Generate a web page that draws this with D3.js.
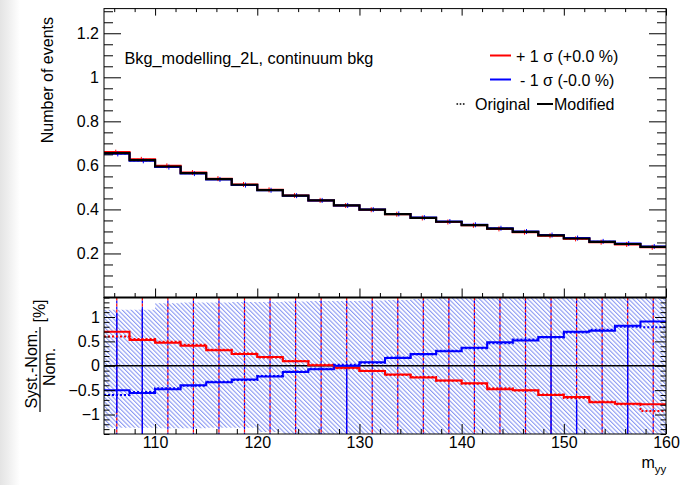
<!DOCTYPE html>
<html>
<head>
<meta charset="utf-8">
<script src="https://cdn.jsdelivr.net/npm/d3@7"></script>
<style>
  html, body { margin: 0; padding: 0; background: #fff; }
  svg { display: block; }
  text { font-family: "Liberation Sans", Arial, Helvetica, sans-serif; fill: #000; }
</style>
</head>
<body>
<svg id="chart" width="687" height="485"></svg>
<script>
// m_yy binning (GeV)
const binEdges = [105, 107.5, 110, 112.5, 115, 117.5, 120, 122.5, 125, 127.5, 130,
  132.5, 135, 137.5, 140, 142.5, 145, 147.5, 150, 152.5, 155, 157.5, 160];

// Nominal continuum background yield per bin
const nominal = [0.656, 0.624, 0.595, 0.565, 0.538, 0.512, 0.488, 0.463, 0.441, 0.418, 0.399,
  0.379, 0.362, 0.344, 0.329, 0.313, 0.298, 0.282, 0.268, 0.253, 0.243, 0.230];

// Relative variation (Syst.-Nom.)/Nom. in percent, smoothed ("Modified")
const upModified = [0.70, 0.53, 0.47, 0.41, 0.32, 0.24, 0.18, 0.09, 0.01, -0.04, -0.11,
  -0.18, -0.24, -0.30, -0.36, -0.48, -0.50, -0.60, -0.64, -0.75, -0.78, -0.79];
const downModified = [-0.50, -0.56, -0.48, -0.40, -0.34, -0.28, -0.22, -0.13, -0.07, 0.00, 0.07,
  0.16, 0.24, 0.30, 0.37, 0.48, 0.52, 0.59, 0.70, 0.72, 0.82, 0.91];

// Relative variation before smoothing ("Original")
const upOriginal = [0.60, 0.55, 0.49, 0.43, 0.33, 0.25, 0.17, 0.10, 0.02, -0.05, -0.10,
  -0.19, -0.23, -0.31, -0.37, -0.46, -0.51, -0.59, -0.66, -0.74, -0.79, -0.93];
const downOriginal = [-0.60, -0.54, -0.46, -0.41, -0.33, -0.29, -0.21, -0.12, -0.06, 0.02, 0.06,
  0.17, 0.23, 0.31, 0.36, 0.46, 0.54, 0.58, 0.68, 0.74, 0.80, 0.79];

// Statistical uncertainty band on the ratio (percent)
const statHigh = [1.15, 1.15, 1.28, 1.30, 1.30, 1.31, 1.31, 1.32, 1.33, 1.33, 1.34,
  1.35, 1.37, 1.40, 1.42, 1.44, 1.46, 1.48, 1.50, 1.52, 1.55, 1.58];
const statLow = [-1.27, -1.27, -1.28, -1.28, -1.27, -1.27, -1.36, -1.40, -1.42, -1.44, -1.45,
  -1.46, -1.47, -1.48, -1.50, -1.52, -1.54, -1.56, -1.58, -1.60, -1.62, -1.65];

// Solid error bars of the down variation (percent), null where none is drawn
const downBarHigh = [1.07, 1.17, null, null, null, null, null, null, null, 0.0, null,
  null, null, null, null, null, null, 0.66, -0.70, null, 0.79, null];
const downBarLow = [-0.97, -1.6, null, null, null, null, null, null, null, -1.6, null,
  null, null, null, null, null, null, -1.6, -1.6, null, -1.6, null];

// Axis ticks and labels
const topYMajor = [0.2, 0.4, 0.6, 0.8, 1.0, 1.2];
const ratioYMajor = [-1, -0.5, 0, 0.5, 1];
const xMajor = [110, 120, 130, 140, 150, 160];

const titleText = "Bkg_modelling_2L, continuum bkg";
const upLabel = "+ 1 \u03c3 (+0.0 %)";
const downLabel = "- 1 \u03c3 (-0.0 %)";

const RED = "#ff0000", BLUE = "#0000ff";
const FONT = 16;

const svg = d3.select("#chart");
const defs = svg.append("defs");

// light grey margin on the left edge
const grad = defs.append("linearGradient").attr("id", "edge")
  .attr("x1", 0).attr("x2", 1).attr("y1", 0).attr("y2", 0);
grad.append("stop").attr("offset", 0).attr("stop-color", "#e4e4e4");
grad.append("stop").attr("offset", 0.4).attr("stop-color", "#eeeeee");
grad.append("stop").attr("offset", 1).attr("stop-color", "#ffffff");
svg.append("rect").attr("x", 0).attr("y", 0).attr("width", 20).attr("height", 485).attr("fill", "url(#edge)");

// hatch pattern for the stat band: thin "\" lines
const pat = defs.append("pattern").attr("id", "hatch")
  .attr("patternUnits", "userSpaceOnUse").attr("width", 3.1).attr("height", 10)
  .attr("patternTransform", "rotate(-45)");
pat.append("line").attr("x1", 0.6).attr("x2", 0.6).attr("y1", 0).attr("y2", 10)
  .attr("stroke", "#6a7cf0").attr("stroke-width", 0.85);

const X0 = 104, X1 = 666;
const TOP0 = 8.6, MID = 297.5, BOT = 434;

const x = d3.scaleLinear().domain([105, 160]).range([X0, X1]);
const yTop = d3.scaleLinear().domain([0, 1.312]).range([MID, TOP0]);
const yRat = d3.scaleLinear().domain([-1.4, 1.4]).range([BOT, MID]);

const nb = nominal.length;
const centers = d3.range(nb).map(i => (binEdges[i] + binEdges[i + 1]) / 2);

function stepPts(vals) {
  const pts = vals.map((v, i) => [binEdges[i], v]);
  pts.push([binEdges[nb], vals[nb - 1]]);
  return pts;
}
const stepLine = ys => d3.line().curve(d3.curveStepAfter).x(d => x(d[0])).y(d => ys(d[1]));

defs.append("clipPath").attr("id", "clipTop")
  .append("rect").attr("x", X0).attr("y", TOP0).attr("width", X1 - X0).attr("height", MID - TOP0);
defs.append("clipPath").attr("id", "clipRat")
  .append("rect").attr("x", X0).attr("y", MID).attr("width", X1 - X0).attr("height", BOT - MID);

// ---------- upper panel ----------
const upper = svg.append("g");
const upperPlot = upper.append("g").attr("clip-path", "url(#clipTop)");

const upVals = nominal.map((n, i) => n * (1 + upModified[i] / 100));
const downVals = nominal.map((n, i) => n * (1 + downModified[i] / 100));
const upOrigVals = nominal.map((n, i) => n * (1 + upOriginal[i] / 100));
const downOrigVals = nominal.map((n, i) => n * (1 + downOriginal[i] / 100));

upperPlot.append("path").attr("d", stepLine(yTop)(stepPts(upVals)))
  .attr("fill", "none").attr("stroke", RED).attr("stroke-width", 2);
upperPlot.append("path").attr("d", stepLine(yTop)(stepPts(downVals)))
  .attr("fill", "none").attr("stroke", BLUE).attr("stroke-width", 2);
upperPlot.append("path").attr("d", stepLine(yTop)(stepPts(upOrigVals)))
  .attr("fill", "none").attr("stroke", RED).attr("stroke-width", 1).attr("stroke-dasharray", "2,2");
upperPlot.append("path").attr("d", stepLine(yTop)(stepPts(downOrigVals)))
  .attr("fill", "none").attr("stroke", BLUE).attr("stroke-width", 1).attr("stroke-dasharray", "2,2");
// small error markers of the original variations
[[upOrigVals, RED, -1], [downOrigVals, BLUE, 1]].forEach(([vals, col, dx]) => {
  upperPlot.selectAll(null).data(vals).enter().append("line")
    .attr("x1", (d, i) => x(centers[i]) + dx).attr("x2", (d, i) => x(centers[i]) + dx)
    .attr("y1", d => yTop(d) - 2.5).attr("y2", d => yTop(d) + 2.5)
    .attr("stroke", col).attr("stroke-width", 1);
});
upperPlot.append("path").attr("d", stepLine(yTop)(stepPts(nominal)))
  .attr("fill", "none").attr("stroke", "#000").attr("stroke-width", 2.2);

// frame and axes of the upper panel
upper.append("rect").attr("x", X0).attr("y", TOP0).attr("width", X1 - X0).attr("height", MID - TOP0)
  .attr("fill", "none").attr("stroke", "#000").attr("stroke-width", 1);

const fmtNum = d => (Math.abs(d) < 1e-9 ? "0" : String(+d.toFixed(2))).replace("-", "\u2212");
const topMinorY = d3.range(1, 27).map(k => k * 0.05).filter(v => !topYMajor.some(m => Math.abs(m - v) < 1e-6));
const xMinor = d3.range(106, 160, 2).filter(v => v % 10 !== 0);

function ticksOnly(g) { g.select(".domain").remove(); g.selectAll("text").remove(); }
function styleLabels(g) {
  g.select(".domain").remove();
  g.selectAll("text").attr("font-size", FONT).attr("font-family", "Liberation Sans, Arial, sans-serif");
}

upper.append("g").attr("transform", `translate(${X0},0)`)
  .call(d3.axisLeft(yTop).tickValues(topYMajor).tickSize(-17).tickPadding(5).tickFormat(fmtNum))
  .call(styleLabels);
upper.append("g").attr("transform", `translate(${X0},0)`)
  .call(d3.axisLeft(yTop).tickValues(topMinorY).tickSize(-9)).call(ticksOnly);
upper.append("g").attr("transform", `translate(${X1},0)`)
  .call(d3.axisRight(yTop).tickValues(topYMajor).tickSize(-17)).call(ticksOnly);
upper.append("g").attr("transform", `translate(${X1},0)`)
  .call(d3.axisRight(yTop).tickValues(topMinorY).tickSize(-9)).call(ticksOnly);
upper.append("g").attr("transform", `translate(0,${MID})`)
  .call(d3.axisBottom(x).tickValues(xMajor).tickSize(-9)).call(ticksOnly);
upper.append("g").attr("transform", `translate(0,${MID})`)
  .call(d3.axisBottom(x).tickValues(xMinor).tickSize(-4.5)).call(ticksOnly);
upper.append("g").attr("transform", `translate(0,${TOP0})`)
  .call(d3.axisTop(x).tickValues(xMajor).tickSize(-7)).call(ticksOnly);
upper.append("g").attr("transform", `translate(0,${TOP0})`)
  .call(d3.axisTop(x).tickValues(xMinor).tickSize(-3.5)).call(ticksOnly);

upper.append("text").attr("transform", "translate(52.5,17) rotate(-90)")
  .attr("text-anchor", "end").attr("font-size", FONT).text("Number of events");

upper.append("text").attr("x", 124.5).attr("y", 64).attr("font-size", 16.3).text(titleText);

// legend
const leg = upper.append("g");
leg.append("line").attr("x1", 490).attr("x2", 511).attr("y1", 55.5).attr("y2", 55.5)
  .attr("stroke", RED).attr("stroke-width", 2);
leg.append("text").attr("x", 516).attr("y", 61.5).attr("font-size", FONT).text(upLabel);
leg.append("line").attr("x1", 490).attr("x2", 511).attr("y1", 79.5).attr("y2", 79.5)
  .attr("stroke", BLUE).attr("stroke-width", 2);
leg.append("text").attr("x", 520).attr("y", 85.5).attr("font-size", FONT).text(downLabel);
leg.append("line").attr("x1", 456.5).attr("x2", 466).attr("y1", 104).attr("y2", 104)
  .attr("stroke", "#000").attr("stroke-width", 1.5).attr("stroke-dasharray", "1.6,1.6");
leg.append("text").attr("x", 475).attr("y", 109.5).attr("font-size", FONT).text("Original");
leg.append("line").attr("x1", 537).attr("x2", 553).attr("y1", 104).attr("y2", 104)
  .attr("stroke", "#000").attr("stroke-width", 2);
leg.append("text").attr("x", 554).attr("y", 109.5).attr("font-size", FONT).text("Modified");

// ---------- ratio panel ----------
const rat = svg.append("g");
const ratPlot = rat.append("g").attr("clip-path", "url(#clipRat)");

// stat band
const bandArea = d3.area().curve(d3.curveStepAfter)
  .x(d => x(d[0])).y0(d => yRat(d[1])).y1(d => yRat(d[2]));
const bandPts = statHigh.map((h, i) => [binEdges[i], statLow[i], h]);
bandPts.push([binEdges[nb], statLow[nb - 1], statHigh[nb - 1]]);
ratPlot.append("path").attr("d", bandArea(bandPts)).attr("fill", "url(#hatch)");

// vertical error lines of the original variations
ratPlot.selectAll(null).data(centers).enter().append("line")
  .attr("x1", d => x(d)).attr("x2", d => x(d)).attr("y1", MID).attr("y2", BOT)
  .attr("stroke", BLUE).attr("stroke-width", 1.2).attr("stroke-dasharray", "3,3").attr("stroke-dashoffset", 3);
ratPlot.selectAll(null).data(centers).enter().append("line")
  .attr("x1", d => x(d)).attr("x2", d => x(d)).attr("y1", MID).attr("y2", BOT)
  .attr("stroke", RED).attr("stroke-width", 1.2).attr("stroke-dasharray", "3,3");
ratPlot.selectAll(null).data(d3.range(nb).filter(i => downBarHigh[i] !== null)).enter().append("line")
  .attr("x1", i => x(centers[i])).attr("x2", i => x(centers[i]))
  .attr("y1", i => yRat(downBarHigh[i])).attr("y2", i => yRat(downBarLow[i]))
  .attr("stroke", BLUE).attr("stroke-width", 1.3);

// zero line
ratPlot.append("line").attr("x1", X0).attr("x2", X1).attr("y1", yRat(0)).attr("y2", yRat(0))
  .attr("stroke", "#000").attr("stroke-width", 1.6);

ratPlot.append("path").attr("d", stepLine(yRat)(stepPts(upModified)))
  .attr("fill", "none").attr("stroke", RED).attr("stroke-width", 2);
ratPlot.append("path").attr("d", stepLine(yRat)(stepPts(downModified)))
  .attr("fill", "none").attr("stroke", BLUE).attr("stroke-width", 2);
ratPlot.append("path").attr("d", stepLine(yRat)(stepPts(upOriginal)))
  .attr("fill", "none").attr("stroke", RED).attr("stroke-width", 2).attr("stroke-dasharray", "2,2");
ratPlot.append("path").attr("d", stepLine(yRat)(stepPts(downOriginal)))
  .attr("fill", "none").attr("stroke", BLUE).attr("stroke-width", 2).attr("stroke-dasharray", "2,2");

rat.append("rect").attr("x", X0).attr("y", MID).attr("width", X1 - X0).attr("height", BOT - MID)
  .attr("fill", "none").attr("stroke", "#000").attr("stroke-width", 1);
rat.append("line").attr("x1", X0).attr("x2", X1).attr("y1", MID).attr("y2", MID)
  .attr("stroke", "#000").attr("stroke-width", 2);

const ratMinorY = d3.range(-14, 15).map(k => k / 10).filter(v => !ratioYMajor.some(m => Math.abs(m - v) < 1e-6));

rat.append("g").attr("transform", `translate(${X0},0)`)
  .call(d3.axisLeft(yRat).tickValues(ratioYMajor).tickSize(-11).tickPadding(4).tickFormat(fmtNum))
  .call(styleLabels);
rat.append("g").attr("transform", `translate(${X0},0)`)
  .call(d3.axisLeft(yRat).tickValues(ratMinorY).tickSize(-5.5)).call(ticksOnly);
rat.append("g").attr("transform", `translate(${X1},0)`)
  .call(d3.axisRight(yRat).tickValues(ratioYMajor).tickSize(-11)).call(ticksOnly);
rat.append("g").attr("transform", `translate(${X1},0)`)
  .call(d3.axisRight(yRat).tickValues(ratMinorY).tickSize(-5.5)).call(ticksOnly);
rat.append("g").attr("transform", `translate(0,${BOT})`)
  .call(d3.axisBottom(x).tickValues(xMajor).tickSize(-10).tickPadding(3).tickFormat(d3.format("d")))
  .call(styleLabels);
rat.append("g").attr("transform", `translate(0,${BOT})`)
  .call(d3.axisBottom(x).tickValues(xMinor).tickSize(-5)).call(ticksOnly);
svg.selectAll(".tick line").attr("stroke", "#000");

// x-axis title m_yy
const xt = rat.append("text").attr("x", 641.5).attr("y", 467.5).attr("font-size", FONT);
xt.append("tspan").text("m");
xt.append("tspan").attr("font-size", 11.5).attr("dy", 5).text("yy");

// ratio y-axis title: (Syst.-Nom.)/Nom. [%]
rat.append("text").attr("transform", "translate(36.5,369) rotate(-90)")
  .attr("text-anchor", "middle").attr("font-size", FONT).text("Syst.-Nom.");
rat.append("line").attr("x1", 40).attr("x2", 40).attr("y1", 327).attr("y2", 412)
  .attr("stroke", "#000").attr("stroke-width", 1.2);
rat.append("text").attr("transform", "translate(54.5,367) rotate(-90)")
  .attr("text-anchor", "middle").attr("font-size", FONT).text("Nom.");
rat.append("text").attr("transform", "translate(44.5,311) rotate(-90)")
  .attr("text-anchor", "middle").attr("font-size", FONT).text("[%]");
</script>
</body>
</html>
